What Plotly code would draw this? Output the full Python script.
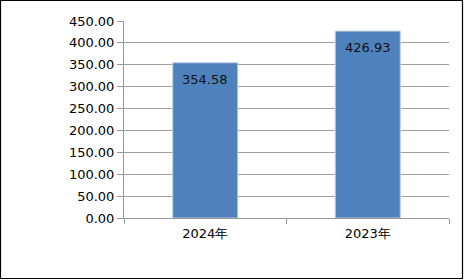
import plotly.graph_objects as go

categories = ["2024年", "2023年"]
values = [354.58, 426.93]
labels = ["354.58", "426.93"]
y_ticks = [0, 50, 100, 150, 200, 250, 300, 350, 400, 450]
y_tick_text = ["%.2f" % v for v in y_ticks]

W, H = 465, 280
ML, MR, MT, MB = 124, 16, 21, 62
PW, PH = W - ML - MR, H - MT - MB

font = dict(family="DejaVu Sans", size=13, color="#000000")

fig = go.Figure()
fig.add_trace(go.Bar(
    x=categories, y=values,
    marker=dict(color="#4F81BD", line=dict(color="#B9CDE5", width=1)),
    width=0.4,
    hoverinfo="skip",
))
for c, v, t in zip(categories, values, labels):
    fig.add_annotation(x=c, y=v, text=t, showarrow=False, yanchor="top",
                       yshift=-7, font=dict(family="DejaVu Sans", size=13, color="#111111"))

def px_to_paper_x(px):
    return (px - ML) / PW

def px_to_paper_y(py):
    return (H - MB - py) / PH

fig.add_shape(type="rect", xref="paper", yref="paper",
              x0=px_to_paper_x(0.5), x1=px_to_paper_x(462.5),
              y0=px_to_paper_y(0.5), y1=px_to_paper_y(278.5),
              line=dict(color="#000000", width=1.2), layer="above")

fig.update_layout(
    width=W, height=H,
    margin=dict(l=ML, r=MR, t=MT, b=MB, pad=0),
    paper_bgcolor="white", plot_bgcolor="white",
    showlegend=False, bargap=0.6,
    font=font,
)
fig.update_xaxes(
    type="category", tickson="boundaries", ticks="outside", ticklen=5,
    tickcolor="#999999", showline=True, linecolor="#999999", linewidth=1,
    showgrid=False, tickfont=font, range=[-0.5, 1.5], ticklabelstandoff=3,
)
fig.update_yaxes(
    range=[0, 450], tickvals=y_ticks, ticktext=y_tick_text,
    ticks="outside", ticklen=6, tickcolor="#999999",
    showline=True, linecolor="#999999", linewidth=1,
    showgrid=True, gridcolor="#A0A0A0", gridwidth=1,
    zeroline=False, tickfont=font, ticklabelstandoff=0,
)
fig.write_html("out.html")
